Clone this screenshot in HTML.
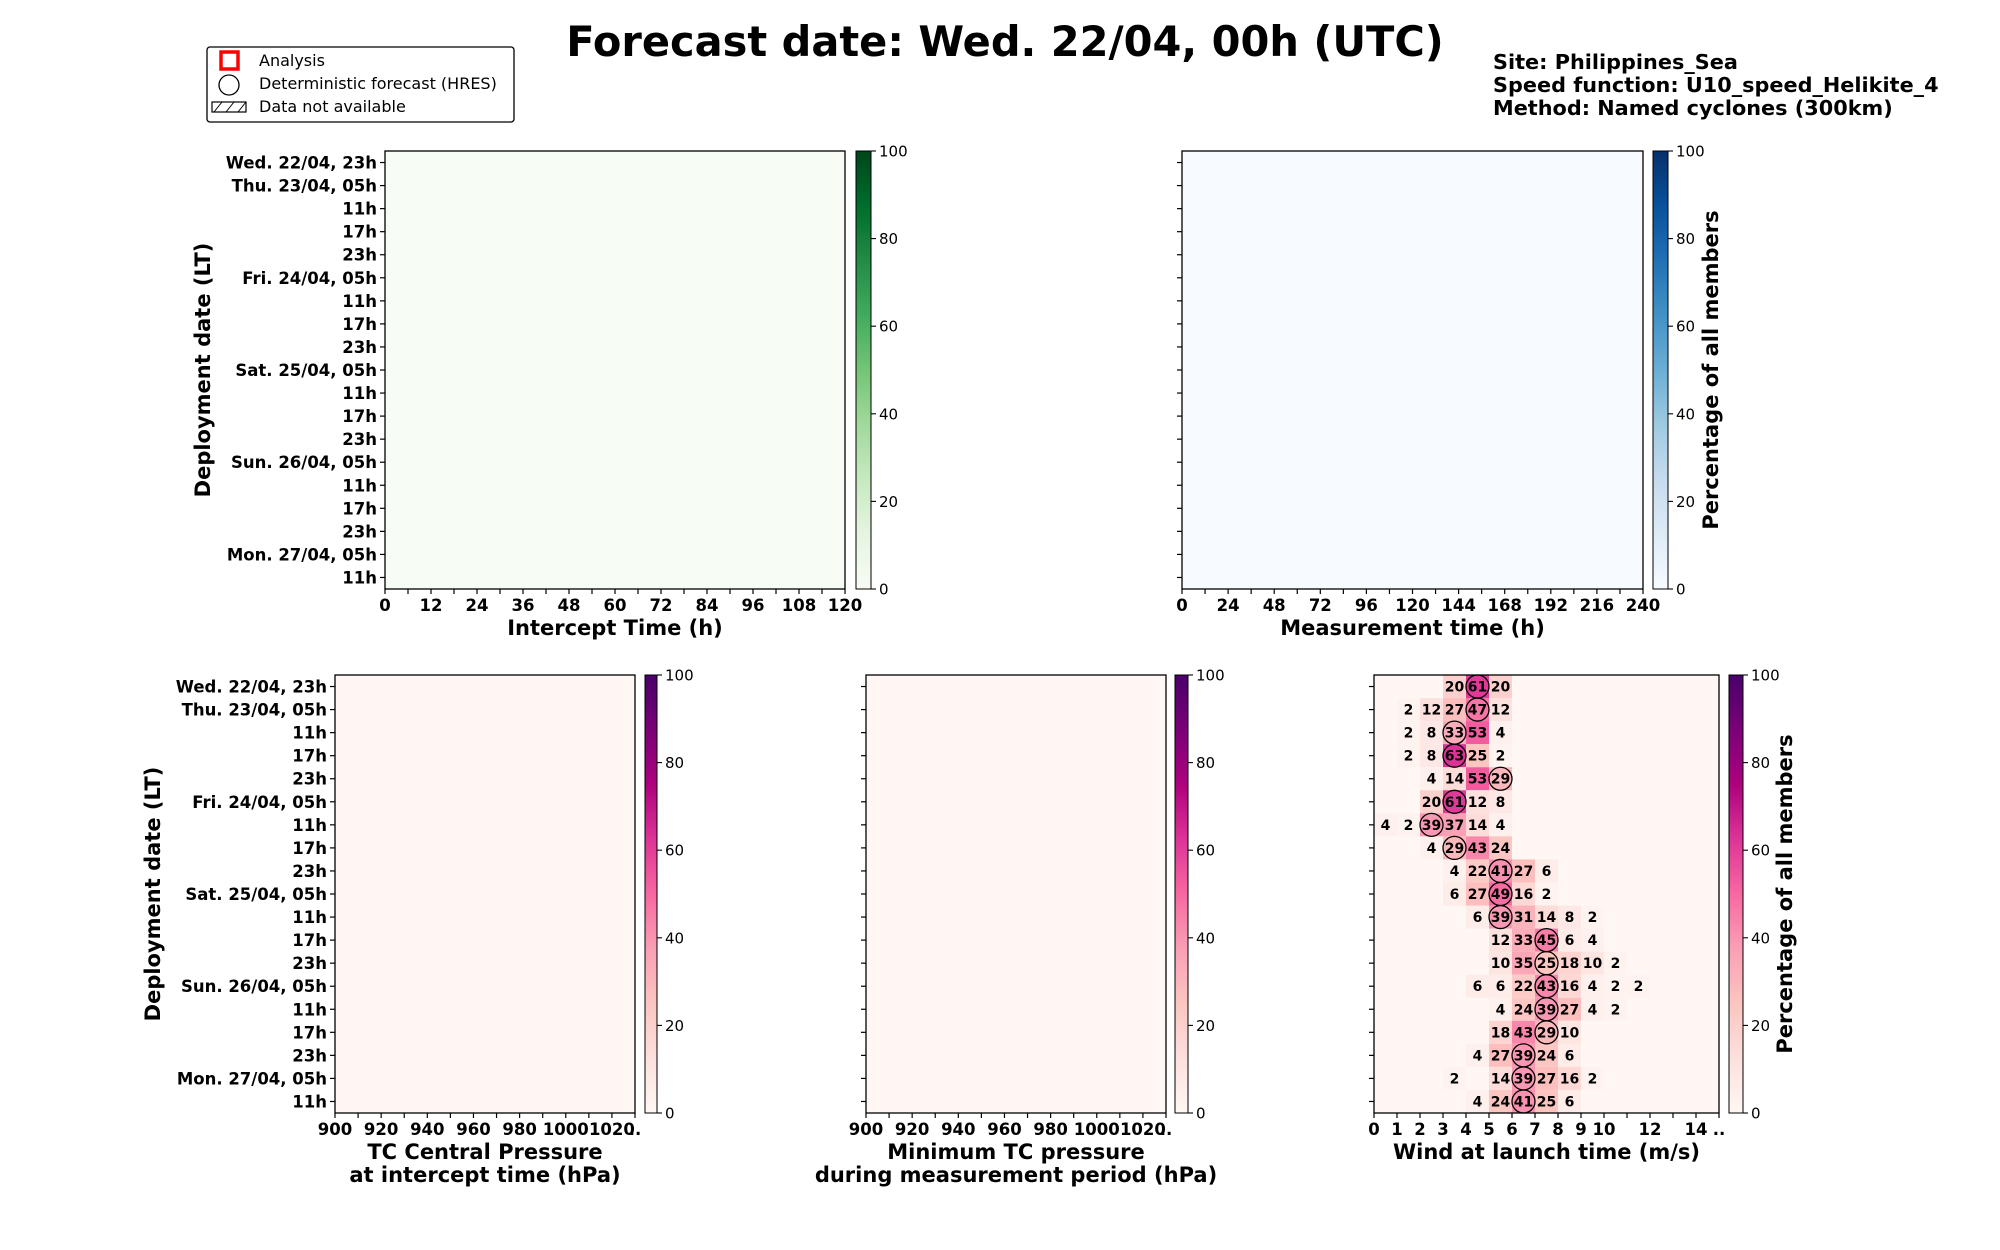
<!DOCTYPE html>
<html><head><meta charset="utf-8">
<style>
html,body{margin:0;padding:0;background:#fff;}
svg{display:block;font-family:"DejaVu Sans","Liberation Sans",sans-serif;}
</style></head>
<body>
<svg id="fig" width="2000" height="1250" viewBox="0 0 2000 1250" xmlns="http://www.w3.org/2000/svg">
<text x="1005" y="56" font-size="41.5" font-weight="bold" text-anchor="middle">Forecast date: Wed. 22/04, 00h (UTC)</text>
<g font-size="20.8" font-weight="bold">
<text x="1493" y="69">Site: Philippines_Sea</text>
<text x="1493" y="92">Speed function: U10_speed_Helikite_4</text>
<text x="1493" y="115">Method: Named cyclones (300km)</text>
</g>
<g>
<rect x="207" y="47" width="307" height="75" rx="3" fill="#fff" stroke="#000" stroke-width="1.3"/>
<rect x="221" y="52" width="17" height="17" fill="none" stroke="#ff0000" stroke-width="3.5"/>
<text x="259" y="66" font-size="16">Analysis</text>
<circle cx="229" cy="85" r="10" fill="none" stroke="#000" stroke-width="1.3"/>
<text x="259" y="89" font-size="16">Deterministic forecast (HRES)</text>
<rect x="212" y="102" width="34" height="10" fill="none" stroke="#000" stroke-width="1.2"/>
<path d="M214 112 L222 102 M226 112 L234 102 M238 112 L246 102" stroke="#000" stroke-width="1"/>
<text x="259" y="112" font-size="16">Data not available</text>
</g>
<g id="plots"></g>
</svg>
<script>
const yLabels = ["Wed. 22/04, 23h","Thu. 23/04, 05h","11h","17h","23h","Fri. 24/04, 05h","11h","17h","23h","Sat. 25/04, 05h","11h","17h","23h","Sun. 26/04, 05h","11h","17h","23h","Mon. 27/04, 05h","11h"];
const windTicks = [0,1,2,3,4,5,6,7,8,9,10,11,12,13,14,15];
const windTickLabels = ["0","1","2","3","4","5","6","7","8","9","10","","12","","14",".."];
const interceptTicks = [0,6,12,18,24,30,36,42,48,54,60,66,72,78,84,90,96,102,108,114,120];
const measureTicks = [0,12,24,36,48,60,72,84,96,108,120,132,144,156,168,180,192,204,216,228,240];
const pressureTicks = [900,910,920,930,940,950,960,970,980,990,1000,1010,1020,1030];
const cbTicks = [0,20,40,60,80,100];
// wind distribution: per row, [column, percentage] pairs
const windRow0 = [[3,20],[4,61],[5,20]];
const windRow1 = [[1,2],[2,12],[3,27],[4,47],[5,12]];
const windRow2 = [[1,2],[2,8],[3,33],[4,53],[5,4]];
const windRow3 = [[1,2],[2,8],[3,63],[4,25],[5,2]];
const windRow4 = [[2,4],[3,14],[4,53],[5,29]];
const windRow5 = [[2,20],[3,61],[4,12],[5,8]];
const windRow6 = [[0,4],[1,2],[2,39],[3,37],[4,14],[5,4]];
const windRow7 = [[2,4],[3,29],[4,43],[5,24]];
const windRow8 = [[3,4],[4,22],[5,41],[6,27],[7,6]];
const windRow9 = [[3,6],[4,27],[5,49],[6,16],[7,2]];
const windRow10 = [[4,6],[5,39],[6,31],[7,14],[8,8],[9,2]];
const windRow11 = [[5,12],[6,33],[7,45],[8,6],[9,4]];
const windRow12 = [[5,10],[6,35],[7,25],[8,18],[9,10],[10,2]];
const windRow13 = [[4,6],[5,6],[6,22],[7,43],[8,16],[9,4],[10,2],[11,2]];
const windRow14 = [[5,4],[6,24],[7,39],[8,27],[9,4],[10,2]];
const windRow15 = [[5,18],[6,43],[7,29],[8,10]];
const windRow16 = [[4,4],[5,27],[6,39],[7,24],[8,6]];
const windRow17 = [[3,2],[5,14],[6,39],[7,27],[8,16],[9,2]];
const windRow18 = [[4,4],[5,24],[6,41],[7,25],[8,6]];
const windRows = [windRow0,windRow1,windRow2,windRow3,windRow4,windRow5,windRow6,windRow7,windRow8,windRow9,windRow10,windRow11,windRow12,windRow13,windRow14,windRow15,windRow16,windRow17,windRow18];
const hresCols = [4,4,3,3,5,3,2,3,5,5,5,7,7,7,7,7,6,6,6];

const RdPu=["#fff7f3","#fde0dd","#fcc5c0","#fa9fb5","#f768a1","#dd3497","#ae017e","#7a0177","#49006a"];
const Greens=["#f7fcf5","#e5f5e0","#c7e9c0","#a1d99b","#74c476","#41ab5d","#238b45","#006d2c","#00441b"];
const Blues=["#f7fbff","#deebf7","#c6dbef","#9ecae1","#6baed6","#4292c6","#2171b5","#08519c","#08306b"];
function hex(c){return [1,3,5].map(i=>parseInt(c.substr(i,2),16));}
function cmap(stops,v){const t=Math.max(0,Math.min(1,v/100))*(stops.length-1);const i=Math.min(stops.length-2,Math.floor(t));const f=t-i;const a=hex(stops[i]),b=hex(stops[i+1]);return "rgb("+a.map((x,k)=>Math.round(x+(b[k]-x)*f)).join(",")+")";}
const NS="http://www.w3.org/2000/svg";
const root=document.getElementById('plots');
function mk(tag,attrs,parent){const e=document.createElementNS(NS,tag);for(const k in attrs)e.setAttribute(k,attrs[k]);(parent||root).appendChild(e);return e;}
function txt(x,y,s,attrs,parent){const e=mk('text',Object.assign({x:x,y:y},attrs),parent);e.textContent=s;return e;}

function panel(cfg){
  const g=mk('g',{});
  
  
  const {x0,x1,y0,y1,xmin,xmax}=cfg;
  const sx=v=>x0+(v-xmin)/(xmax-xmin)*(x1-x0);
  const rowH=(y1-y0)/yLabels.length;
  const sy=i=>y0+i*rowH;
  const bg=mk('rect',{x:x0,y:y0,width:x1-x0,height:y1-y0,fill:cmap(cfg.cm,0)},g);
  
  
  if(cfg.rows){
    cfg.rows.forEach((row,ri)=>{
      row.forEach(([c,v])=>{
        const r=mk('rect',{x:sx(c),y:sy(ri),width:sx(c+1)-sx(c),height:rowH,fill:cmap(cfg.cm,v)},g);
        
        
      });
    });
    cfg.rows.forEach((row,ri)=>{
      row.forEach(([c,v])=>{
        const t=txt((sx(c)+sx(c+1))/2,sy(ri)+rowH/2+5,String(v),{"font-size":14,"font-weight":"bold","text-anchor":"middle"},g);
        
        
      });
    });
    cfg.hres.forEach((c,ri)=>{
      const ci=mk('circle',{cx:(sx(c)+sx(c+1))/2,cy:sy(ri)+rowH/2,r:11.5,fill:"none",stroke:"#000","stroke-width":1.3},g);
      
      
    });
  }
  mk('rect',{x:x0,y:y0,width:x1-x0,height:y1-y0,fill:"none",stroke:"#000","stroke-width":1.3},g);
  yLabels.forEach((l,i)=>{
    const yc=sy(i)+rowH/2;
    mk('line',{x1:x0-5,x2:x0,y1:yc,y2:yc,stroke:"#000","stroke-width":1.2},g);
    if(cfg.ylabels){const t=txt(x0-8,yc+6,l,{"font-size":16.5,"font-weight":"bold","text-anchor":"end"},g);
      }
  });
  cfg.xticks.forEach((v,i)=>{
    const xx=sx(v);
    mk('line',{x1:xx,x2:xx,y1:y1,y2:y1+5,stroke:"#000","stroke-width":1.2},g);
    const lab=cfg.xlab(v,i);
    if(lab){const t=txt(xx,y1+22,lab,{"font-size":16.5,"font-weight":"bold","text-anchor":"middle"},g);
      }
  });
  cfg.xtitle.forEach((s,i)=>{const t=txt((x0+x1)/2,y1+46+i*23,s,{"font-size":21,"font-weight":"bold","text-anchor":"middle"},g);
    });
  const cb=mk('g',{},g);
  
  
  const cx0=cfg.cb0,cx1=cfg.cb1;
  const id='grad'+cfg.name;
  const defs=mk('defs',{},cb);const lg=mk('linearGradient',{id:id,x1:0,y1:1,x2:0,y2:0},defs);
  cfg.cm.forEach((c,i)=>mk('stop',{offset:(i/(cfg.cm.length-1)),"stop-color":c},lg));
  mk('rect',{x:cx0,y:y0,width:cx1-cx0,height:y1-y0,fill:"url(#"+id+")",stroke:"#000","stroke-width":1},cb);
  cbTicks.forEach(v=>{const yy=y1-(v/100)*(y1-y0);
    mk('line',{x1:cx1,x2:cx1+5,y1:yy,y2:yy,stroke:"#000","stroke-width":1.1},cb);
    const t=txt(cx1+8,yy+5.5,String(v),{"font-size":15},cb);
    });
  if(cfg.cblabel){const lx=cfg.cblabel,ly=(y0+y1)/2;
    const t=txt(lx,ly,"Percentage of all members",{"font-size":21,"font-weight":"bold","text-anchor":"middle",transform:"rotate(-90 "+lx+" "+ly+")"},cb);
    }
  if(cfg.ytitle){const lx=cfg.ytitle,ly=(y0+y1)/2;
    const t=txt(lx,ly,"Deployment date (LT)",{"font-size":21,"font-weight":"bold","text-anchor":"middle",transform:"rotate(-90 "+lx+" "+ly+")"},g);
    }
}
panel({name:"intercept-time-panel",x0:385,x1:845,y0:151,y1:589,xmin:0,xmax:120,cm:Greens,ylabels:true,ytitle:210,
  xticks:interceptTicks,xlab:v=>v%12===0?String(v):"",xtitle:["Intercept Time (h)"],cb0:856,cb1:871});
panel({name:"measurement-time-panel",x0:1182,x1:1643,y0:151,y1:589,xmin:0,xmax:240,cm:Blues,ylabels:false,cblabel:1718,
  xticks:measureTicks,xlab:v=>v%24===0?String(v):"",xtitle:["Measurement time (h)"],cb0:1653,cb1:1668});
panel({name:"tc-pressure-panel",x0:335,x1:635,y0:675,y1:1113,xmin:900,xmax:1030,cm:RdPu,ylabels:true,ytitle:160,
  xticks:pressureTicks,xlab:v=>v===1030?"..":(v%20===0?String(v):""),xtitle:["TC Central Pressure","at intercept time (hPa)"],cb0:645,cb1:657});
panel({name:"min-pressure-panel",x0:866,x1:1166,y0:675,y1:1113,xmin:900,xmax:1030,cm:RdPu,ylabels:false,
  xticks:pressureTicks,xlab:v=>v===1030?"..":(v%20===0?String(v):""),xtitle:["Minimum TC pressure","during measurement period (hPa)"],cb0:1175,cb1:1188});
panel({name:"wind-panel",x0:1374,x1:1719,y0:675,y1:1113,xmin:0,xmax:15,cm:RdPu,ylabels:false,cblabel:1792,rows:windRows,hres:hresCols,
  xticks:windTicks,xlab:(v,i)=>windTickLabels[i],xtitle:["Wind at launch time (m/s)"],cb0:1729,cb1:1743});
</script>
</body></html>
